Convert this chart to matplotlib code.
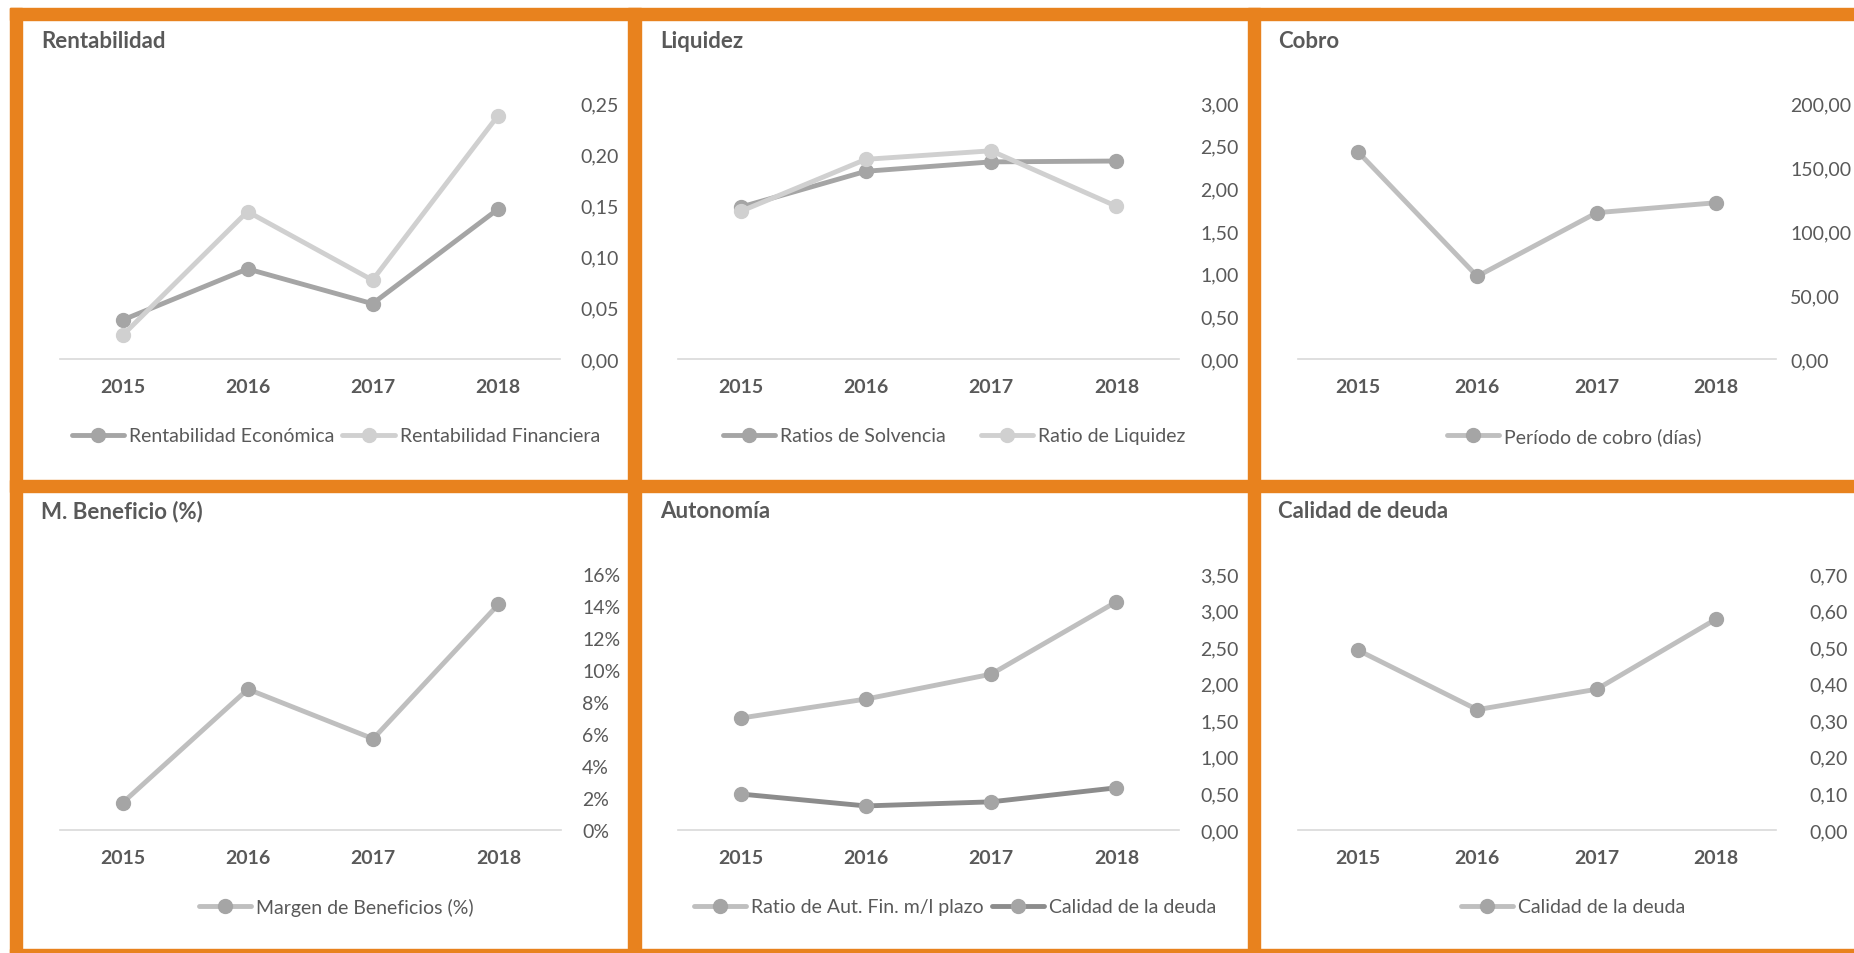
import matplotlib
matplotlib.use('Agg')
import matplotlib.pyplot as plt
from matplotlib.patches import Rectangle
from matplotlib.ticker import FuncFormatter, MultipleLocator

plt.rcParams['font.family'] = ['Lato', 'DejaVu Sans']

W, H = 1854, 954
ORANGE = '#E8821E'
TXT = '#595959'
G_DARK = '#A5A5A5'
G_LIGHT = '#D0D0D0'
G_MID = '#BFBFBF'
G_DEEP = '#8C8C8C'

# datos
years = ['2015', '2016', '2017', '2018']
rent_economica = [0.038, 0.088, 0.054, 0.146]
rent_financiera = [0.023, 0.144, 0.077, 0.237]
ratio_solvencia = [1.78, 2.20, 2.31, 2.32]
ratio_liquidez = [1.73, 2.34, 2.44, 1.79]
periodo_cobro = [162.0, 64.6, 114.3, 122.1]
margen_beneficio = [0.017, 0.088, 0.057, 0.141]
ratio_aut_fin = [1.53, 1.79, 2.13, 3.12]
calidad_deuda = [0.492, 0.329, 0.385, 0.577]


def fx(x):
    return x / W


def fy(y):
    return 1 - y / H


def coma(dec):
    return FuncFormatter(lambda v, p: f'{v:.{dec}f}'.replace('.', ','))


pct = FuncFormatter(lambda v, p: f'{v*100:.0f}%')

# titulo, (x0, x1, y_base, y_top), ymax, paso, formato, x etiquetas, series, centro leyenda, sep. columnas
panels = [
    ('Rentabilidad', (60, 560, 360, 104), 0.25, 0.05, coma(2), 580,
     [('Rentabilidad Económica', rent_economica, G_DARK, G_DARK),
      ('Rentabilidad Financiera', rent_financiera, G_LIGHT, G_LIGHT)], (336, 437), 0.4),
    ('Liquidez', (678, 1179, 360, 104), 3.0, 0.5, coma(2), 1200,
     [('Ratios de Solvencia', ratio_solvencia, G_DARK, G_DARK),
      ('Ratio de Liquidez', ratio_liquidez, G_LIGHT, G_LIGHT)], (954, 437), 1.8),
    ('Cobro', (1298, 1776, 360, 104), 200, 50, coma(2), 1790,
     [('Período de cobro (días)', periodo_cobro, G_MID, G_DARK)], (1574, 437), 0.4),
    ('M. Beneficio (%)', (60, 561, 831, 575), 0.16, 0.02, pct, 582,
     [('Margen de Beneficios (%)', margen_beneficio, G_MID, G_DARK)], (336, 908), 0.4),
    ('Autonomía', (678, 1179, 831, 575), 3.5, 0.5, coma(2), 1200,
     [('Ratio de Aut. Fin. m/l plazo', ratio_aut_fin, G_MID, G_DARK),
      ('Calidad de la deuda', calidad_deuda, G_DEEP, G_DARK)], (955, 908), 0.4),
    ('Calidad de deuda', (1298, 1776, 831, 575), 0.7, 0.1, coma(2), 1809,
     [('Calidad de la deuda', calidad_deuda, G_MID, G_DARK)], (1573, 908), 0.4),
]
title_pos = [(41, 41), (660, 41), (1278, 41), (41, 512), (660, 512), (1278, 512)]

fig = plt.figure(figsize=(W / 100, H / 100), dpi=100)
fig.patch.set_facecolor('white')

# marcos naranjas
frames = [(10, 9, 1844, 12), (10, 9, 12, 945), (628, 9, 13, 945), (1248, 9, 12, 945),
          (10, 481, 1844, 12), (10, 950, 1844, 4)]
for x, y, w, h in frames:
    fig.patches.append(Rectangle((fx(x), fy(y + h)), w / W, h / H, transform=fig.transFigure,
                                 color=ORANGE, zorder=0))

for (title, (x0, x1, yb, yt), ymax, step, fmt, lab_x, series, leg_c, colsp), (tx, ty) in zip(panels, title_pos):
    ax = fig.add_axes([fx(x0), fy(yb), (x1 - x0) / W, (yb - yt) / H])
    ax.set_facecolor('none')
    xs = range(len(years))
    for name, vals, lc, mc in series:
        ax.plot(xs, vals, color=lc, lw=3.5, marker='o', ms=10, mfc=mc, mec=mc,
                label=name, clip_on=False, solid_capstyle='round')
    ax.set_xlim(-0.5, len(years) - 0.5)
    ax.set_ylim(0, ymax)
    ax.yaxis.set_major_locator(MultipleLocator(step))
    ax.yaxis.set_major_formatter(fmt)
    ax.yaxis.tick_right()
    ax.set_xticks(list(xs))
    ax.set_xticklabels(years, fontweight='bold')
    ax.tick_params(axis='x', length=0, pad=14, labelsize=14, labelcolor=TXT)
    ax.tick_params(axis='y', length=0, pad=(lab_x - x1) * 0.72, labelsize=14, labelcolor=TXT)
    for s in ['top', 'left', 'right']:
        ax.spines[s].set_visible(False)
    ax.spines['bottom'].set_color('#D9D9D9')
    ax.spines['bottom'].set_linewidth(1.2)
    fig.text(fx(tx), fy(ty), title, fontsize=16, fontweight='bold', color=TXT,
             ha='left', va='center')
    ax.legend(loc='center', bbox_to_anchor=(fx(leg_c[0]), fy(leg_c[1])),
              bbox_transform=fig.transFigure, ncol=len(series), frameon=False,
              fontsize=14, labelcolor=TXT, handlelength=2.7, handletextpad=0.25,
              columnspacing=colsp, borderpad=0, borderaxespad=0)

fig.savefig('out.png', dpi=100, facecolor='white')
